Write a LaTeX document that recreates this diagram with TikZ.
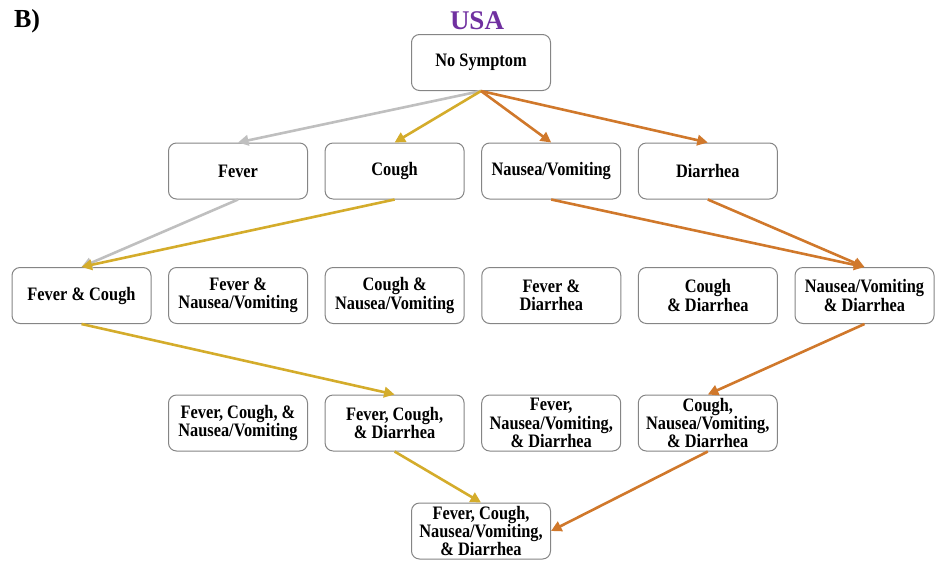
\documentclass[tikz,border=0pt]{standalone}
\usepackage{fontspec}
\setmainfont{Liberation Serif}
\newfontfamily\sympfont[FakeStretch=0.86]{Liberation Serif}
\usetikzlibrary{positioning,arrows.meta}
\definecolor{usapurple}{HTML}{7030A0}
\definecolor{fevgray}{HTML}{BFBFBF}
\definecolor{cougold}{HTML}{D4AC2B}
\definecolor{nvorange}{HTML}{D0782B}
\definecolor{boxgray}{HTML}{858585}

\begin{document}
\begin{tikzpicture}[x=1pt,y=1pt,node distance=156.6pt,on grid,
		symp/.style={draw=boxgray,line width=1pt,rounded corners=8pt,fill=white,
			minimum width=139pt,minimum height=56pt,align=center,inner sep=0pt,
			font=\sympfont\fontsize{19}{18.2}\selectfont\bfseries},
		link/.style={line width=2.6pt,-{Triangle[length=10.5pt,width=10.5pt]}}]
		\useasboundingbox (0,0) rectangle (939,-560);
		\node[font=\fontsize{26}{30}\selectfont\bfseries] (lbl) at (27,-21) {B)};
		\node[font=\fontsize{27}{30}\selectfont\bfseries,text=usapurple] (usa) at (477,-21) {USA};
		% single symptoms
		\node[symp] (none) at (481,-62.5) {No Symptom};
		\node[symp] (f) at (238,-171) {Fever};
		\node[symp] (c) [right=of f] {Cough};
		\node[symp] (n) [right=of c] {Nausea/Vomiting};
		\node[symp] (d) [right=of n] {Diarrhea};
		% pairs
		\node[symp] (fc) at (81.5,-295.5) {Fever \& Cough};
		\node[symp] (fn) [right=of fc] {Fever \&\\Nausea/Vomiting};
		\node[symp] (cn) [right=of fn] {Cough \&\\Nausea/Vomiting};
		\node[symp] (fd) [right=of cn] {Fever \&\\Diarrhea};
		\node[symp] (cd) [right=of fd] {Cough\\\& Diarrhea};
		\node[symp] (nd) [right=of cd] {Nausea/Vomiting\\\& Diarrhea};
		% triples
		\node[symp] (fcn) at (238,-423) {Fever, Cough, \&\\Nausea/Vomiting};
		\node[symp] (fcd) [right=of fcn] {Fever, Cough,\\\& Diarrhea};
		\node[symp] (fnd) [right=of fcd] {Fever,\\Nausea/Vomiting,\\\& Diarrhea};
		\node[symp] (cnd) [right=of fnd] {Cough,\\Nausea/Vomiting,\\\& Diarrhea};
		\node[symp] (fcnd) at (481,-531) {Fever, Cough,\\Nausea/Vomiting,\\\& Diarrhea};
		\path[link]
		(none.south) edge[fevgray] (f.north)
		(none.south) edge[cougold] (c.north)
		(none.south) edge[nvorange] (n.north)
		(none.south) edge[nvorange] (d.north)
		(f.south) edge[fevgray] (fc.north)
		(c.south) edge[cougold] (fc.north)
		(n.south) edge[nvorange] (nd.north)
		(d.south) edge[nvorange] (nd.north)
		(fc.south) edge[cougold] (fcd.north)
		(nd.south) edge[nvorange] (cnd.north)
		(fcd.south) edge[cougold] (fcnd.north)
		(cnd.south) edge[nvorange] (fcnd.east);
\end{tikzpicture}
\end{document}
